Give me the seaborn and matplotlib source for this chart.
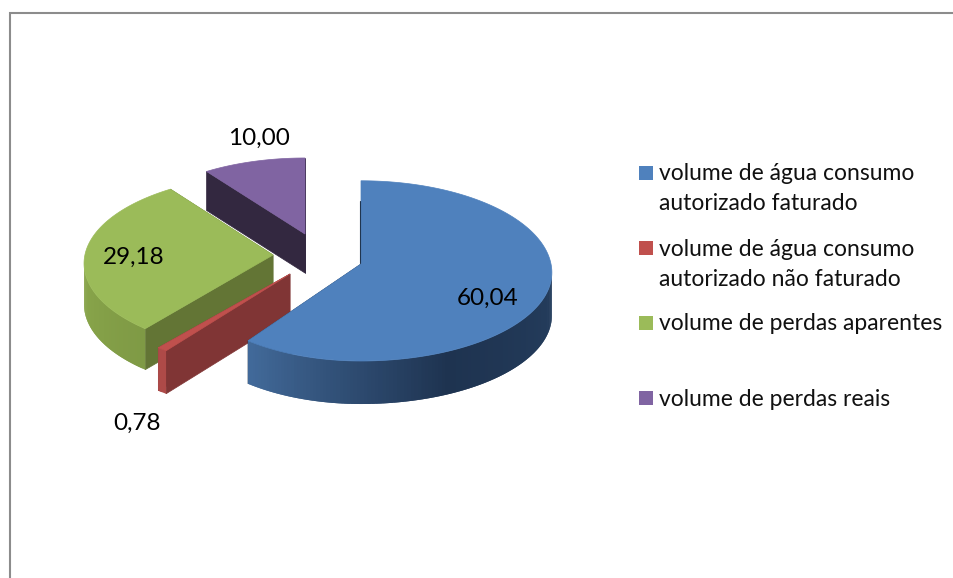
import numpy as np
import seaborn as sns
import matplotlib
matplotlib.use('Agg')
import matplotlib.pyplot as plt
from matplotlib.patches import Rectangle

categories = [
    'volume de água consumo\nautorizado faturado',
    'volume de água consumo\nautorizado não faturado',
    'volume de perdas aparentes',
    'volume de perdas reais',
]
values = [60.04, 0.78, 29.18, 10.00]

colors = ['#4F81BD', '#C0504D', '#9BBB59', '#8064A2']
cut_colors = ['#20354F', '#803535', '#637535', '#332840']
wall_colors = [
    ['#253E5E', '#1E3350', '#426A9A'],
    ['#AE4A48', '#AE4A48'],
    ['#7F9A45', '#8AA74B'],
    ['#332840', '#332840'],
]

# layout, in pixels of the 954x578 picture
apex_x = [361, 290, 273, 305]
apex_y = [264, 274, 255, 234]
label_x = [488, 137, 134, 259]
label_y = [298, 423, 257, 138]
left_squeeze = [0.93, 1.02, 0.99, 0.95]
back_stretch = [1.04, 1.0, 1.0, 0.95]
depths = [43, 43, 41, 39]
rx, ry, persp = 190, 87.7, 0.096

sns.set_theme(style='white')
plt.rcParams['font.family'] = ['Lato', 'DejaVu Sans']
FONT = 16.5
LABEL_FONT = 17.5


def project(theta, k):
    # theta clockwise from 12 o'clock, nearer edge drawn larger
    w = 1 + persp * np.cos(theta)
    x = rx * np.sin(theta) / w
    y = -ry * np.cos(theta) / w
    x = np.where(x < 0, x * left_squeeze[k], x)
    y = np.where(y < 0, y * back_stretch[k], y)
    return apex_x[k] + x, apex_y[k] + y


def draw_slice(ax, k, start, end):
    px, py = apex_x[k], apex_y[k]
    depth = depths[k]

    # flat cut faces
    for a in (start, end):
        ex, ey = project(a, k)
        ax.fill([px, ex, ex, px], [py, ey, ey + depth, py + depth],
                color=cut_colors[k], lw=0.5)

    # outer wall, front half only; strips overlap so no seams show
    lo, hi = max(start, np.radians(95)), min(end, np.radians(265))
    if hi > lo:
        n = max(int(np.degrees(hi - lo)), 2)
        edges = np.linspace(lo, hi, n + 1)
        shades = sns.blend_palette(wall_colors[k], n)
        for i in range(n):
            t = np.linspace(edges[i], edges[min(i + 2, n)], 4)
            x, y = project(t, k)
            ax.fill(np.r_[x, x[::-1]], np.r_[y, y[::-1] + depth],
                    color=shades[i], lw=0)

    # top face
    t = np.linspace(start, end, 200)
    x, y = project(t, k)
    ax.fill(np.r_[px, x], np.r_[py, y], color=colors[k], lw=0.5)


def main():
    fig = plt.figure(figsize=(9.54, 5.78), dpi=100)
    ax = fig.add_axes([0, 0, 1, 1])
    ax.set_xlim(0, 954)
    ax.set_ylim(578, 0)
    ax.axis('off')

    # chart border runs off the picture on the right and bottom
    ax.plot([10, 10, 954], [578, 12.5, 12.5], color='#8C8C8C', lw=1.5,
            solid_joinstyle='miter')

    fractions = np.array(values) / np.sum(values)
    stops = np.r_[0, np.cumsum(fractions)] * 2 * np.pi
    for k in [3, 2, 1, 0]:
        draw_slice(ax, k, stops[k], stops[k + 1])

    # dark sliver where the blue slice starts
    ex, ey = project(stops[0], 0)
    ax.plot([apex_x[0] - 1, ex - 1], [apex_y[0] - 1, ey + 20], color='#20354F', lw=0.8)

    for v, x, y in zip(values, label_x, label_y):
        ax.text(x, y, f'{v:.2f}'.replace('.', ','), ha='center', va='center',
                fontsize=LABEL_FONT, color='black')

    for i, (cat, c) in enumerate(zip(categories, colors)):
        y = 172 + 75 * i
        ax.add_patch(Rectangle((639, y - 6), 14, 14, color=c, lw=0))
        for j, line in enumerate(cat.split('\n')):
            ax.text(659, y + 2 + 30 * j, line, ha='left', va='center',
                    fontsize=FONT, color='#111111')

    fig.savefig('out.png', dpi=100, facecolor='white')


if __name__ == '__main__':
    main()
